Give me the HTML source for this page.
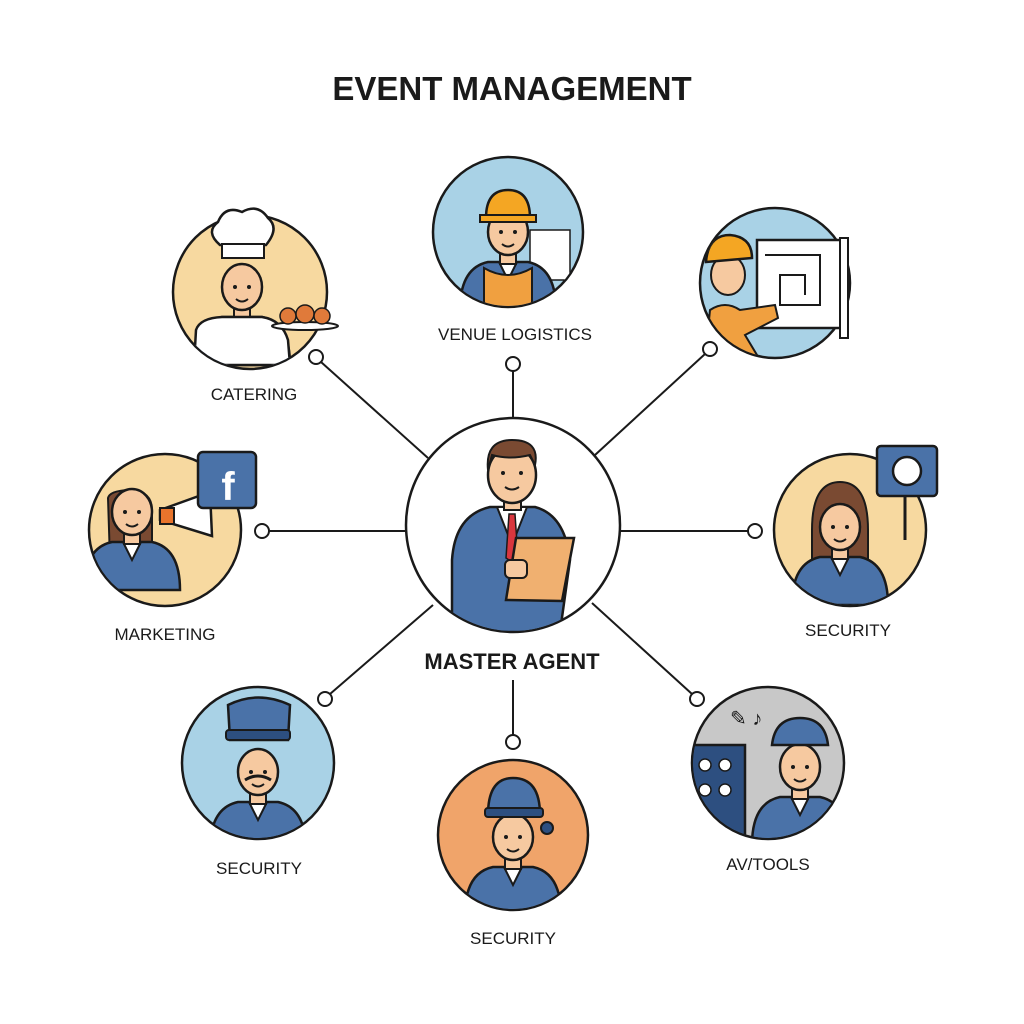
<!DOCTYPE html>
<html><head><meta charset="utf-8"><style>
html,body{margin:0;padding:0;background:#fff}
svg{display:block}
text{font-family:"Liberation Sans",sans-serif;fill:#1a1a1a}
</style></head><body>
<svg width="1024" height="1024" viewBox="0 0 1024 1024" xmlns="http://www.w3.org/2000/svg">
<defs>
<g id="person">
  <path d="M-48,60 Q-48,18 -20,12 L20,12 Q48,18 48,60 Z" fill="#4a72a8" stroke="#1a1a1a" stroke-width="2.5"/>
  <path d="M-9,12 L0,30 L9,12 Z" fill="#fff" stroke="#1a1a1a" stroke-width="2"/>
  <rect x="-8" y="0" width="16" height="14" fill="#f6c9a0" stroke="#1a1a1a" stroke-width="2"/>
  <ellipse cx="0" cy="-18" rx="20" ry="23" fill="#f6c9a0" stroke="#1a1a1a" stroke-width="2.5"/>
  <circle cx="-7" cy="-18" r="2" fill="#1a1a1a"/><circle cx="7" cy="-18" r="2" fill="#1a1a1a"/>
  <path d="M-6,-6 Q0,-1 6,-6" fill="none" stroke="#1a1a1a" stroke-width="2"/>
</g>
</defs>
<text x="512" y="100" text-anchor="middle" font-size="33" font-weight="bold">EVENT MANAGEMENT</text>

<g stroke="#1a1a1a" stroke-width="2" fill="none">
  <line x1="513" y1="371" x2="513" y2="418"/>
  <line x1="705" y1="354" x2="595" y2="455"/>
  <line x1="321" y1="362" x2="428" y2="458"/>
  <line x1="269" y1="531" x2="406" y2="531"/>
  <line x1="620" y1="531" x2="748" y2="531"/>
  <line x1="330" y1="694" x2="433" y2="605"/>
  <line x1="513" y1="680" x2="513" y2="735"/>
  <line x1="692" y1="694" x2="592" y2="603"/>
</g>
<g fill="#fff" stroke="#1a1a1a" stroke-width="2">
  <circle cx="513" cy="364" r="7"/><circle cx="710" cy="349" r="7"/>
  <circle cx="316" cy="357" r="7"/><circle cx="262" cy="531" r="7"/>
  <circle cx="755" cy="531" r="7"/><circle cx="325" cy="699" r="7"/>
  <circle cx="513" cy="742" r="7"/><circle cx="697" cy="699" r="7"/>
</g>

<!-- center -->
<circle cx="513" cy="525" r="107" fill="#fff" stroke="#1a1a1a" stroke-width="2.5"/>
<clipPath id="cc"><circle cx="513" cy="525" r="106"/></clipPath>
<g clip-path="url(#cc)">
  <path d="M452,632 L452,560 Q455,515 490,507 L535,507 Q565,515 570,560 L560,632 Z" fill="#4a72a8" stroke="#1a1a1a" stroke-width="2.5"/>
  <path d="M497,507 L512,545 L527,507 Z" fill="#fff" stroke="#1a1a1a" stroke-width="2"/>
  <path d="M509,514 L515,514 L518,558 L512,562 L506,558 Z" fill="#d9363e" stroke="#1a1a1a" stroke-width="1.5"/>
  <rect x="504" y="494" width="17" height="16" fill="#f6c9a0" stroke="#1a1a1a" stroke-width="2"/>
  <ellipse cx="512" cy="475" rx="24" ry="28" fill="#f6c9a0" stroke="#1a1a1a" stroke-width="2.5"/>
  <path d="M488,470 Q485,440 512,440 Q540,440 535,465 L530,455 Q510,460 492,455 Z" fill="#7a4a32" stroke="#1a1a1a" stroke-width="2"/>
  <circle cx="503" cy="473" r="2" fill="#1a1a1a"/><circle cx="521" cy="473" r="2" fill="#1a1a1a"/>
  <path d="M505,487 Q512,492 519,487" fill="none" stroke="#1a1a1a" stroke-width="2"/>
  <path d="M516,538 L574,538 L562,601 L506,600 Z" fill="#f0b070" stroke="#1a1a1a" stroke-width="2.5"/>
  <rect x="505" y="560" width="22" height="18" rx="5" fill="#f6c9a0" stroke="#1a1a1a" stroke-width="2"/>
</g>
<text x="512" y="669" text-anchor="middle" font-size="22" font-weight="bold">MASTER AGENT</text>

<!-- venue logistics -->
<circle cx="508" cy="232" r="75" fill="#a9d2e6" stroke="#1a1a1a" stroke-width="2.5"/>
<clipPath id="c1"><circle cx="508" cy="232" r="74"/></clipPath>
<g clip-path="url(#c1)">
  <rect x="530" y="230" width="40" height="50" fill="#fff" stroke="#1a1a1a" stroke-width="1.5"/>
  <use href="#person" x="508" y="250"/>
  <path d="M484,268 L484,310 L532,310 L532,268 Q520,275 508,275 Q496,275 484,268Z" fill="#f0a040" stroke="#1a1a1a" stroke-width="2"/>
  <path d="M486,218 Q486,190 508,190 Q530,190 530,218 Z" fill="#f4a623" stroke="#1a1a1a" stroke-width="2.5"/>
  <rect x="480" y="215" width="56" height="7" fill="#f4a623" stroke="#1a1a1a" stroke-width="2"/>
</g>
<text x="515" y="340" text-anchor="middle" font-size="17">VENUE LOGISTICS</text>

<!-- top right -->
<circle cx="775" cy="283" r="75" fill="#a9d2e6" stroke="#1a1a1a" stroke-width="2.5"/>
<rect x="757" y="240" width="84" height="88" fill="#fff" stroke="#1a1a1a" stroke-width="2.5"/>
<rect x="840" y="238" width="8" height="100" fill="#fff" stroke="#1a1a1a" stroke-width="2"/>
<path d="M765,255 h55 v50 h-40 v-30 h25 v20" fill="none" stroke="#1a1a1a" stroke-width="2"/>
<clipPath id="c2"><circle cx="775" cy="283" r="74"/></clipPath>
<g clip-path="url(#c2)">
  <path d="M705,360 L710,310 Q725,300 740,310 L775,305 L778,318 L745,335 L760,360 Z" fill="#f0a040" stroke="#1a1a1a" stroke-width="2"/>
  <ellipse cx="728" cy="275" rx="17" ry="20" fill="#f6c9a0" stroke="#1a1a1a" stroke-width="2"/>
  <path d="M706,262 Q708,235 730,235 Q752,237 752,258 Z" fill="#f4a623" stroke="#1a1a1a" stroke-width="2.5"/>
</g>

<!-- catering -->
<circle cx="250" cy="292" r="77" fill="#f7d9a0" stroke="#1a1a1a" stroke-width="2.5"/>
<clipPath id="c3"><circle cx="250" cy="292" r="76"/></clipPath>
<g clip-path="url(#c3)">
  <g transform="translate(242,305)"><use href="#person"/></g>
  <path d="M194,365 L196,330 Q200,318 222,317 L262,317 Q282,320 288,340 L290,365 Z" fill="#fff" stroke="#1a1a1a" stroke-width="2.5"/>
</g>
<path d="M220,245 Q205,232 218,222 Q225,205 242,212 Q258,203 268,218 Q280,228 266,245 Z" fill="#fff" stroke="#1a1a1a" stroke-width="2.5"/>
<rect x="222" y="244" width="42" height="14" fill="#fff" stroke="#1a1a1a" stroke-width="2"/>
<ellipse cx="305" cy="326" rx="33" ry="4" fill="#fff" stroke="#1a1a1a" stroke-width="2"/>
<g fill="#e07a3a" stroke="#1a1a1a" stroke-width="1.5"><circle cx="288" cy="316" r="8"/><circle cx="305" cy="314" r="9"/><circle cx="322" cy="316" r="8"/></g>
<text x="254" y="400" text-anchor="middle" font-size="17">CATERING</text>

<!-- marketing -->
<circle cx="165" cy="530" r="76" fill="#f7d9a0" stroke="#1a1a1a" stroke-width="2.5"/>
<clipPath id="c4"><circle cx="165" cy="530" r="75"/></clipPath>
<g clip-path="url(#c4)">
  <path d="M108,498 Q110,490 132,490 Q152,492 152,510 L152,560 L110,560 Z" fill="#7a4a32" stroke="#1a1a1a" stroke-width="2"/>
  <use href="#person" x="132" y="530"/>
</g>
<path d="M160,510 L210,492 L212,536 L160,520 Z" fill="#fff" stroke="#1a1a1a" stroke-width="2.5"/>
<rect x="160" y="508" width="14" height="16" fill="#e8742c" stroke="#1a1a1a" stroke-width="2"/>
<rect x="198" y="452" width="58" height="56" rx="5" fill="#4a72a8" stroke="#1a1a1a" stroke-width="2.5"/>
<text x="228" y="500" text-anchor="middle" font-size="40" font-weight="bold" style="fill:#fff">f</text>
<text x="165" y="640" text-anchor="middle" font-size="17">MARKETING</text>

<!-- security right -->
<circle cx="850" cy="530" r="76" fill="#f7d9a0" stroke="#1a1a1a" stroke-width="2.5"/>
<clipPath id="c5"><circle cx="850" cy="530" r="75"/></clipPath>
<g clip-path="url(#c5)">
  <path d="M812,530 Q812,482 840,482 Q868,482 868,530 L868,570 L812,570 Z" fill="#7a4a32" stroke="#1a1a1a" stroke-width="2"/>
  <use href="#person" x="840" y="545"/>
</g>
<line x1="905" y1="495" x2="905" y2="540" stroke="#1a1a1a" stroke-width="3"/>
<rect x="877" y="446" width="60" height="50" rx="4" fill="#4a72a8" stroke="#1a1a1a" stroke-width="2.5"/>
<circle cx="907" cy="471" r="14" fill="#fff" stroke="#1a1a1a" stroke-width="2.5"/>
<text x="848" y="636" text-anchor="middle" font-size="17">SECURITY</text>

<!-- security bottom-left -->
<circle cx="258" cy="763" r="76" fill="#a9d2e6" stroke="#1a1a1a" stroke-width="2.5"/>
<clipPath id="c6"><circle cx="258" cy="763" r="75"/></clipPath>
<g clip-path="url(#c6)"><use href="#person" x="258" y="790"/></g>
<path d="M230,740 L228,705 Q258,690 290,705 L288,740 Z" fill="#4a72a8" stroke="#1a1a1a" stroke-width="2.5"/>
<rect x="226" y="730" width="64" height="10" rx="3" fill="#2d4f80" stroke="#1a1a1a" stroke-width="2"/>
<path d="M245,780 Q258,772 271,780" fill="none" stroke="#1a1a1a" stroke-width="3"/>
<text x="259" y="874" text-anchor="middle" font-size="17">SECURITY</text>

<!-- security bottom -->
<circle cx="513" cy="835" r="75" fill="#f0a46a" stroke="#1a1a1a" stroke-width="2.5"/>
<clipPath id="c7"><circle cx="513" cy="835" r="74"/></clipPath>
<g clip-path="url(#c7)"><use href="#person" x="513" y="855"/></g>
<path d="M488,815 Q488,778 513,778 Q540,778 540,815 Z" fill="#4a72a8" stroke="#1a1a1a" stroke-width="2.5"/>
<rect x="485" y="808" width="58" height="9" rx="3" fill="#2d4f80" stroke="#1a1a1a" stroke-width="2"/>
<circle cx="547" cy="828" r="6" fill="#2d4f80" stroke="#1a1a1a" stroke-width="2"/>
<text x="513" y="944" text-anchor="middle" font-size="17">SECURITY</text>

<!-- AV/tools -->
<circle cx="768" cy="763" r="76" fill="#c8c8c8" stroke="#1a1a1a" stroke-width="2.5"/>
<clipPath id="c8"><circle cx="768" cy="763" r="75"/></clipPath>
<g clip-path="url(#c8)">
  <rect x="690" y="745" width="55" height="90" fill="#2d4f80" stroke="#1a1a1a" stroke-width="2.5"/>
  <g fill="#fff" stroke="#1a1a1a" stroke-width="1.5"><circle cx="705" cy="765" r="6"/><circle cx="725" cy="765" r="6"/><circle cx="705" cy="790" r="6"/><circle cx="725" cy="790" r="6"/></g>
  <use href="#person" x="800" y="785"/>
</g>
<path d="M772,745 Q775,718 800,718 Q825,718 828,745 Z" fill="#4a72a8" stroke="#1a1a1a" stroke-width="2.5"/>
<text x="730" y="725" font-size="20">✎ ♪</text>
<text x="768" y="870" text-anchor="middle" font-size="17">AV/TOOLS</text>
</svg>
</body></html>
